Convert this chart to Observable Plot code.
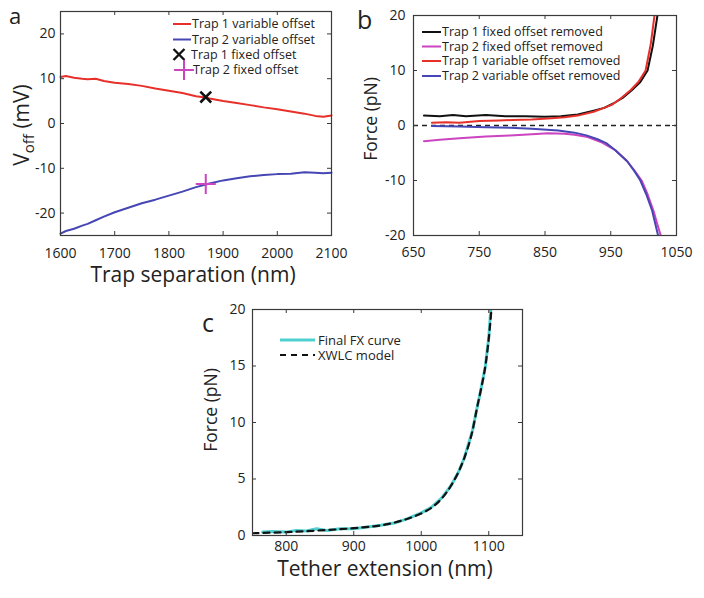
<!DOCTYPE html>
<html><head><meta charset="utf-8">
<script src="https://cdn.jsdelivr.net/npm/d3@7"></script>
<script src="https://cdn.jsdelivr.net/npm/@observablehq/plot@0.6"></script>
<style>
body{margin:0;background:#fff;}
#fig{position:relative;width:704px;height:598px;font-family:"Open Sans",sans-serif;background:#fff;}
#fig svg{position:absolute;overflow:visible;}
</style></head><body><div id="fig"></div>
<script>
// ---------- Panel a data ----------
const aSep = [1600,1610,1625,1640,1650,1665,1680,1700,1725,1750,1775,1800,1825,1850,1868,1875,1900,1925,1950,1975,2000,2025,2050,2070,2085,2100];
const aTrap1Var = [10.4,10.6,10.2,10.0,9.9,10.0,9.5,9.1,8.8,8.4,7.8,7.3,6.8,6.1,5.8,5.6,5.0,4.6,4.1,3.6,3.2,2.7,2.2,1.7,1.5,1.8];
const aTrap2Var = [-24.6,-24.0,-23.5,-22.8,-22.4,-21.6,-20.8,-19.8,-18.8,-17.8,-17.0,-16.1,-15.2,-14.2,-13.6,-13.4,-12.7,-12.2,-11.8,-11.5,-11.3,-11.2,-10.9,-11.0,-11.1,-11.0];
const aFixedSep = 1868;
const aTrap1Fixed = 5.9;
const aTrap2Fixed = -13.5;
const aXTicks = [1600,1700,1800,1900,2000,2100];
const aYTicks = [-20,-10,0,10,20];
const aLegend = ["Trap 1 variable offset","Trap 2 variable offset","Trap 1 fixed offset","Trap 2 fixed offset"];

// ---------- Panel b data ----------
const bT1FixX = [666,690,710,730,760,790,820,850,874,900,924,940,954,968,982,995,1006,1014,1021];
const bT1FixY = [1.8,1.7,1.9,1.7,1.9,1.7,1.7,1.6,1.7,2.0,2.7,3.2,4.0,5.0,6.4,7.9,10.0,14.5,20.0];
const bT2FixX = [666,690,720,760,797,830,855,880,895,915,935,957,975,988,997,1006,1015,1021,1026];
const bT2FixY = [-2.85,-2.6,-2.3,-2.0,-1.8,-1.6,-1.4,-1.5,-1.7,-2.1,-3.0,-4.5,-6.5,-8.5,-10.0,-12.5,-15.5,-18.0,-20.0];
const bT1VarX = [678,700,720,750,780,800,830,860,880,900,924,940,952,965,980,992,1003,1011,1016.5];
const bT1VarY = [0.5,0.6,0.5,0.8,0.9,1.0,1.1,1.3,1.5,1.8,2.5,3.2,3.8,4.9,6.4,7.9,10.0,14.9,20.0];
const bT2VarX = [678,720,760,797,830,870,895,913,930,943,957,975,986,995,1004,1013,1018,1022];
const bT2VarY = [-0.1,-0.2,-0.3,-0.4,-0.6,-0.9,-1.3,-1.8,-2.5,-3.2,-4.5,-6.5,-8.3,-10.0,-12.5,-15.5,-18.0,-20.0];
const bXTicks = [650,750,850,950,1050];
const bYTicks = [-20,-10,0,10,20];
const bLegend = ["Trap 1 fixed offset removed","Trap 2 fixed offset removed","Trap 1 variable offset removed","Trap 2 variable offset removed"];

// ---------- Panel c data ----------
const cCurveX = [765,780,800,815,830,845,860,880,900,920,940,960,980,1000,1015,1030,1044,1055,1064,1076,1083,1088,1095,1100,1103];
const cCurveY = [0.3,0.35,0.3,0.45,0.4,0.6,0.45,0.6,0.6,0.75,0.9,1.1,1.5,2.0,2.5,3.3,4.4,5.6,6.9,9.3,11.4,12.8,15.0,17.5,20.0];
const cModelX = [750,800,850,900,950,970,990,1000,1015,1030,1044,1055,1064,1076,1083,1088,1095,1100,1104];
const cModelY = [0.2,0.3,0.45,0.65,1.0,1.3,1.7,1.95,2.45,3.25,4.4,5.6,6.9,9.3,11.4,12.8,15.0,17.4,20.0];
const cXTicks = [800,900,1000,1100];
const cYTicks = [0,5,10,15,20];
const cLegend = ["Final FX curve","XWLC model"];

const RED="#e8302a", BLUE="#4646b4", MAG="#cc44c0", BLK="#111111", CYAN="#4fcfcf", FRAME="#3a3a3a";

const zip = (xs, ys) => xs.map((x,i)=>({x, y: ys[i]}));
const fmt = d => String(d);

function inwardTicks(xt, yt, iw, ih, len=4){
  return [
    Plot.tickX(xt, {x: d=>d, insetTop: ih-len, stroke: FRAME}),
    Plot.tickX(xt, {x: d=>d, insetBottom: ih-len, stroke: FRAME}),
    Plot.tickY(yt, {y: d=>d, insetRight: iw-len, stroke: FRAME}),
    Plot.tickY(yt, {y: d=>d, insetLeft: iw-len, stroke: FRAME})
  ];
}
function place(svg, left, top){ svg.style.left = left+"px"; svg.style.top = top+"px"; return svg; }
const fig = document.getElementById("fig");
const baseStyle = {fontSize:"14px", fontFamily:"'Open Sans', sans-serif", color:"#222", background:"transparent", overflow:"visible"};

// ---------- Panel a ----------
{
  const W=345,H=290,ml=60,mr=14,mt=11,mb=55;
  const p = Plot.plot({
    width:W,height:H,marginLeft:ml,marginRight:mr,marginTop:mt,marginBottom:mb,
    style: baseStyle,
    x:{domain:[1600,2100]}, y:{domain:[-25,25]},
    marks:[
      Plot.line(zip(aSep,aTrap1Var),{x:"x",y:"y",stroke:RED,strokeWidth:2}),
      Plot.line(zip(aSep,aTrap2Var),{x:"x",y:"y",stroke:BLUE,strokeWidth:2}),
      Plot.dot([{x:aFixedSep,y:aTrap1Fixed}],{x:"x",y:"y",symbol:"times",r:5,stroke:BLK,strokeWidth:2.6}),
      Plot.dot([{x:aFixedSep,y:aTrap2Fixed}],{x:"x",y:"y",symbol:"plus",r:6.5,stroke:MAG,strokeWidth:2}),
      ...inwardTicks(aXTicks,aYTicks,W-ml-mr,H-mt-mb),
      Plot.frame({stroke:FRAME,strokeWidth:1.2}),
      Plot.axisX(aXTicks,{tickSize:0,tickPadding:13,tickFormat:fmt,label:null}),
      Plot.axisY(aYTicks,{tickSize:0,tickPadding:5,tickFormat:fmt,label:null})
    ]
  });
  fig.appendChild(place(p,0,0));
}
// ---------- Panel b ----------
{
  const W=354,H=290,ml=63,mr=28,mt=15,mb=55;
  const p = Plot.plot({
    width:W,height:H,marginLeft:ml,marginRight:mr,marginTop:mt,marginBottom:mb,
    style: baseStyle,
    x:{domain:[650,1050]}, y:{domain:[-20,20]},
    marks:[
      Plot.ruleY([0],{stroke:"#222",strokeWidth:1.6,strokeDasharray:"5,4"}),
      Plot.line(zip(bT2FixX,bT2FixY),{x:"x",y:"y",stroke:MAG,strokeWidth:2,clip:true}),
      Plot.line(zip(bT2VarX,bT2VarY),{x:"x",y:"y",stroke:BLUE,strokeWidth:2,clip:true}),
      Plot.line(zip(bT1FixX,bT1FixY),{x:"x",y:"y",stroke:BLK,strokeWidth:2,clip:true}),
      Plot.line(zip(bT1VarX,bT1VarY),{x:"x",y:"y",stroke:RED,strokeWidth:2,clip:true}),
      ...inwardTicks(bXTicks,bYTicks,W-ml-mr,H-mt-mb),
      Plot.frame({stroke:FRAME,strokeWidth:1.2}),
      Plot.axisX(bXTicks,{tickSize:0,tickPadding:12,tickFormat:fmt,label:null}),
      Plot.axisY(bYTicks,{tickSize:0,tickPadding:8,tickFormat:fmt,label:null})
    ]
  });
  fig.appendChild(place(p,350,0));
}
// ---------- Panel c ----------
{
  const W=340,H=308,ml=62,mr=8,mt=19,mb=63;
  const p = Plot.plot({
    width:W,height:H,marginLeft:ml,marginRight:mr,marginTop:mt,marginBottom:mb,
    style: baseStyle,
    x:{domain:[750,1150]}, y:{domain:[0,20]},
    marks:[
      Plot.line(zip(cCurveX,cCurveY),{x:"x",y:"y",stroke:CYAN,strokeWidth:3,clip:true}),
      Plot.line(zip(cModelX,cModelY),{x:"x",y:"y",stroke:BLK,strokeWidth:2.2,strokeDasharray:"6,5",curve:"monotone-x",clip:true}),
      ...inwardTicks(cXTicks,cYTicks,W-ml-mr,H-mt-mb),
      Plot.frame({stroke:FRAME,strokeWidth:1.2}),
      Plot.axisX(cXTicks,{tickSize:0,tickPadding:6,tickFormat:fmt,label:null}),
      Plot.axisY(cYTicks,{tickSize:0,tickPadding:7,tickFormat:fmt,label:null})
    ]
  });
  fig.appendChild(place(p,190,290));
}

// ---------- Overlay: labels, panel letters, legends ----------
const ov = d3.select(fig).append("svg").attr("width",704).attr("height",598)
  .style("left","0px").style("top","0px").style("pointer-events","none")
  .attr("font-family","'Open Sans', sans-serif").attr("fill","#222");

// panel letters
ov.append("text").attr("x",9).attr("y",24).attr("font-size",22).text("a");
ov.append("text").attr("x",357).attr("y",29).attr("font-size",25).text("b");
ov.append("text").attr("x",202).attr("y",332).attr("font-size",25).text("c");

// x labels
ov.append("text").attr("x",193).attr("y",282).attr("font-size",21).attr("text-anchor","middle").text("Trap separation (nm)");
ov.append("text").attr("x",385).attr("y",576).attr("font-size",21).attr("text-anchor","middle").text("Tether extension (nm)");

// y labels
{
  const t = ov.append("text").attr("transform","translate(29,125) rotate(-90)").attr("font-size",21).attr("text-anchor","middle");
  t.append("tspan").text("V");
  t.append("tspan").attr("font-size",15).attr("dy",5).text("off");
  t.append("tspan").attr("dy",-5).text(" (mV)");
}
ov.append("text").attr("transform","translate(377,119) rotate(-90)").attr("font-size",17.5).attr("text-anchor","middle").text("Force (pN)");
ov.append("text").attr("transform","translate(217,410) rotate(-90)").attr("font-size",17.5).attr("text-anchor","middle").text("Force (pN)");

// legend a
{
  const rows=[24,39.5,54.5,70];
  const g = ov.append("g").attr("font-size",12.5);
  g.append("line").attr("x1",173).attr("x2",191).attr("y1",rows[0]).attr("y2",rows[0]).attr("stroke",RED).attr("stroke-width",2);
  g.append("line").attr("x1",173).attr("x2",191).attr("y1",rows[1]).attr("y2",rows[1]).attr("stroke",BLUE).attr("stroke-width",2);
  g.append("path").attr("d",d3.symbol(d3.symbolTimes,80)()).attr("transform",`translate(179,${rows[2]})`).attr("stroke",BLK).attr("stroke-width",2.4).attr("fill","none");
  g.append("path").attr("d",d3.symbol(d3.symbolPlus,130)()).attr("transform",`translate(184,${rows[3]})`).attr("stroke",MAG).attr("stroke-width",2).attr("fill","none");
  const xs=[192,192,191,193];
  aLegend.forEach((s,i)=>g.append("text").attr("x",xs[i]).attr("y",rows[i]).attr("dy","0.35em").text(s));
}
// legend b
{
  const rows=[32,46.5,61,76];
  const cols=[BLK,MAG,RED,BLUE];
  const g = ov.append("g").attr("font-size",12.5);
  bLegend.forEach((s,i)=>{
    g.append("line").attr("x1",422).attr("x2",441).attr("y1",rows[i]).attr("y2",rows[i]).attr("stroke",cols[i]).attr("stroke-width",2);
    g.append("text").attr("x",442).attr("y",rows[i]).attr("dy","0.35em").text(s);
  });
}
// legend c
{
  const rows=[340,355];
  const g = ov.append("g").attr("font-size",13);
  g.append("line").attr("x1",280).attr("x2",315).attr("y1",rows[0]).attr("y2",rows[0]).attr("stroke",CYAN).attr("stroke-width",3);
  g.append("line").attr("x1",280).attr("x2",315).attr("y1",rows[1]).attr("y2",rows[1]).attr("stroke",BLK).attr("stroke-width",2.2).attr("stroke-dasharray","6,5");
  cLegend.forEach((s,i)=>g.append("text").attr("x",318).attr("y",rows[i]).attr("dy","0.35em").text(s));
}
</script></body></html>
